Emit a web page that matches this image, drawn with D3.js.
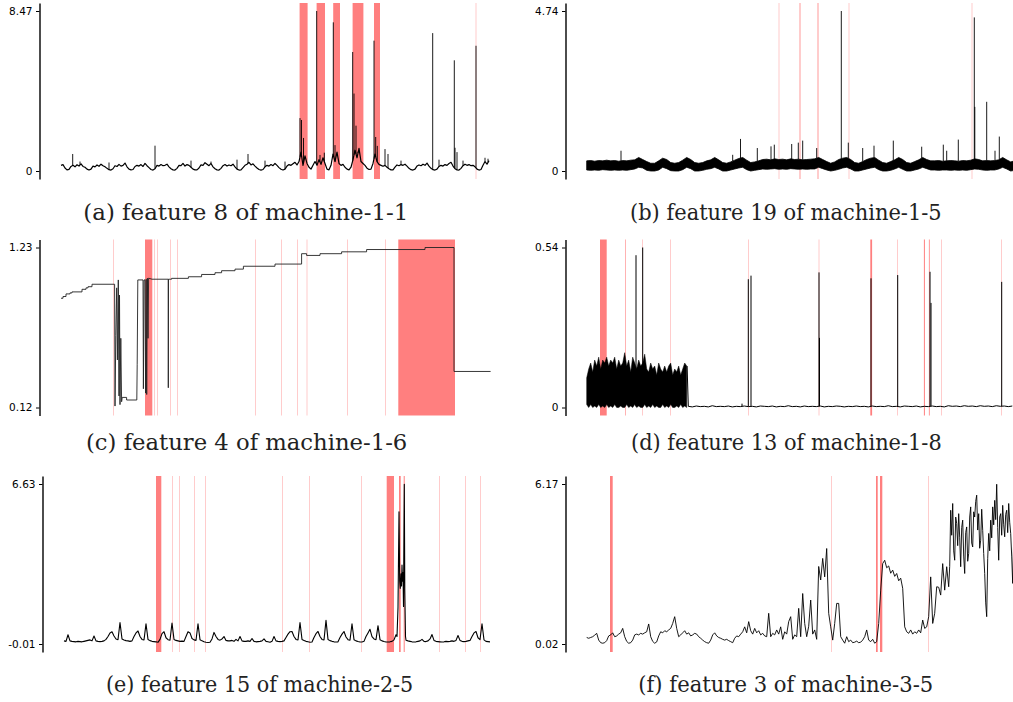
<!DOCTYPE html>
<html><head><meta charset="utf-8">
<script src="https://cdn.jsdelivr.net/npm/d3@7"></script>
<style>body{margin:0;background:#fff}svg{display:block}</style>
</head><body><svg id="c" width="1013" height="702"></svg>
<script>
// ---------- (a) feature 8 of machine-1-1 ----------
const aTicks = [0, 8.47];
const aBase = [0.30,0.34,0.16,0.06,0.09,0.24,0.30,0.22,0.33,0.26,
 0.38,0.24,0.20,0.10,0.05,0.10,0.26,0.22,0.32,0.25,
 0.36,0.28,0.22,0.14,0.07,0.05,0.12,0.28,0.24,0.35,
 0.26,0.30,0.42,0.22,0.10,0.06,0.08,0.24,0.30,0.26,
 0.34,0.24,0.40,0.28,0.18,0.08,0.05,0.12,0.30,0.26,
 0.34,0.28,0.30,0.36,0.22,0.12,0.06,0.05,0.14,0.30,
 0.28,0.40,0.26,0.34,0.30,0.20,0.10,0.06,0.06,0.16,
 0.32,0.30,0.44,0.36,0.28,0.40,0.22,0.12,0.06,0.05,
 0.14,0.28,0.34,0.26,0.32,0.28,0.36,0.22,0.10,0.05,
 0.06,0.18,0.30,0.36,0.46,0.32,0.38,0.26,0.16,0.08,
 0.05,0.08,0.22,0.30,0.26,0.34,0.28,0.40,0.30,0.18,
 0.09,0.05,0.10,0.26,0.34,0.30,0.38,0.46,0.32,0.50,
 1.00,0.30,0.80,0.40,0.20,0.10,0.30,0.50,0.30,0.60,
 0.35,0.70,0.40,0.10,0.06,0.30,0.90,0.50,1.00,0.40,
 0.30,0.35,0.20,0.10,0.06,0.20,0.60,1.10,0.70,1.20,
 0.50,0.40,0.30,0.15,0.08,0.10,0.40,0.90,0.50,0.35,
 0.30,0.25,0.30,0.20,0.12,0.06,0.06,0.20,0.32,0.28,
 0.34,0.30,0.36,0.26,0.14,0.07,0.05,0.10,0.26,0.32,
 0.28,0.36,0.30,0.42,0.26,0.14,0.07,0.05,0.10,0.24,
 0.30,0.26,0.34,0.30,0.40,0.46,0.26,0.12,0.06,0.05,
 0.14,0.28,0.36,0.30,0.34,0.28,0.30,0.22,0.10,0.05,
 0.08,0.30,0.50,0.36,0.55];
const aSpikes = [[5.85,0.9],[9.5,0.5],[24,0.45],[47,1.34],[65,0.55],[75,0.5],[88,0.6],[93.5,0.9],[102,0.55],[112,0.5],
 [119.5,2.8],[120.25,2.7],[121.25,1.75],[127.85,8.47],[129.5,0.85],[131.65,0.97],[136.15,7.87],[137,1.37],
 [145.85,6.3],[146.5,4.1],[147.5,2.4],[148.5,1.02],[156.5,6.9],[157.35,1.8],[158.15,1.33],[162,1.16],[163.5,0.9],
 [170,0.55],[185.85,7.3],[189,0.6],[196.65,5.86],[197,1.23],[198,1.0],[201,0.55],[207.5,6.63],[212,0.7],[213.5,0.65]];
const aSpans = [[119.3,123.3],[127.8,132],[136.1,139.5],[145.8,151.2],[156.5,159.5],[207.4,207.6]];

// ---------- (b) feature 19 of machine-1-5 ----------
const bTicks = [0, 4.74];
const bHi = [0.30,0.31,0.29,0.31,0.30,0.32,0.30,0.31,0.29,0.31,0.30,0.32,0.33,0.40,0.34,0.28,0.23,0.23,0.30,0.38,
 0.34,0.25,0.23,0.25,0.32,0.40,0.34,0.25,0.23,0.25,0.30,0.33,0.40,0.33,0.25,0.23,0.27,0.32,0.37,0.40,
 0.32,0.25,0.27,0.30,0.34,0.35,0.33,0.36,0.34,0.35,0.33,0.36,0.34,0.35,0.33,0.34,0.35,0.36,0.40,0.34,
 0.28,0.23,0.27,0.34,0.38,0.40,0.34,0.25,0.23,0.28,0.34,0.38,0.40,0.32,0.25,0.23,0.28,0.33,0.40,0.34,
 0.25,0.23,0.28,0.33,0.40,0.34,0.30,0.30,0.31,0.29,0.30,0.31,0.30,0.29,0.31,0.30,0.32,0.36,0.34,0.30,
 0.31,0.30,0.31,0.33,0.40,0.33,0.27,0.30];
const bLo = [0.03,0.02,0.03,0.02,0.04,0.03,0.02,0.03,0.02,0.03,0.02,0.04,0.06,0.11,0.09,0.02,0.00,0.00,0.03,0.11,
 0.07,0.01,0.00,0.00,0.04,0.11,0.07,0.00,0.00,0.02,0.05,0.07,0.11,0.06,0.00,0.00,0.03,0.06,0.09,0.11,
 0.04,0.00,0.02,0.04,0.06,0.05,0.06,0.07,0.05,0.06,0.05,0.07,0.06,0.05,0.06,0.05,0.06,0.06,0.11,0.07,
 0.03,0.00,0.02,0.05,0.09,0.11,0.06,0.00,0.00,0.03,0.06,0.09,0.11,0.04,0.00,0.00,0.02,0.06,0.11,0.05,
 0.00,0.00,0.03,0.06,0.11,0.07,0.03,0.03,0.02,0.03,0.03,0.02,0.03,0.02,0.03,0.02,0.04,0.06,0.05,0.03,
 0.02,0.03,0.03,0.06,0.11,0.06,0.00,0.02];
const bSpikes = [[17.15,0.6],[73,0.48],[76.9,0.95],[85.3,0.68],[92.15,0.73],[93.8,0.78],[102.5,0.8],[105.8,0.84],
 [108,0.9],[115,0.68],[127.3,4.74],[130.8,0.84],[138,0.68],[143.65,0.75],[153.3,0.9],[167.5,0.72],[178.3,0.78],
 [180,0.6],[185.8,0.93],[193.8,4.55],[194.05,1.9],[200,2.05],[204.15,0.6],[206.3,1.02]];
const bSpans = [[96.05,96.25],[106.45,106.85],[115.45,115.85],[131.05,131.25],[192.55,192.75]];

// ---------- (c) feature 4 of machine-1-6 ----------
const cTicks = [0.12, 1.23];
const cPts = [[0,0.878],[1,0.878],[1,0.89],[2.5,0.89],[2.5,0.908],[4.5,0.908],[4.5,0.915],[5.5,0.915],[5.5,0.922],
 [10.5,0.922],[10.5,0.94],[12.5,0.94],[12.5,0.95],[13.5,0.95],[13.5,0.958],[15.5,0.958],[15.5,0.975],[26.8,0.975],
 [27,0.13],[27.4,0.62],[27.85,0.95],[28.2,0.45],[28.65,1.005],[29,0.2],[29.25,0.9],[29.5,0.14],[29.9,0.6],[30.3,0.16],
 [30.6,0.19],[32.8,0.19],[32.8,0.172],[37.9,0.172],[38.1,0.42],[38.4,1.005],[41,1.005],[41.2,0.25],[41.5,1.005],
 [42,1.005],[42.3,0.22],[42.6,1.01],[42.85,0.21],[43.2,1.017],[43.5,0.6],[43.8,1.017],[45.5,1.01],[53.6,1.01],
 [53.65,0.257],[53.75,1.01],[55.3,1.01],[55.3,1.016],[63.7,1.016],[63.7,1.027],[70.3,1.027],[70.3,1.043],[77,1.043],
 [77,1.055],[80.3,1.055],[80.3,1.069],[87,1.069],[87,1.08],[91.2,1.08],[91.2,1.10],[107,1.10],[107,1.115],
 [120.3,1.115],[120.3,1.187],[122.8,1.187],[122.8,1.175],[129.5,1.175],[129.5,1.187],[140.3,1.187],[140.3,1.20],
 [152.8,1.20],[152.8,1.216],[182,1.216],[182,1.23],[196.5,1.23],[196.5,0.37],[214.8,0.37]];
const cSpans = [[26.05,26.25],[42,45.65],[46.55,46.75],[48.25,48.45],[54.55,54.75],[58.05,58.25],[97.05,97.25],
 [110.25,110.45],[118.05,118.25],[122.9,123.1],[143.25,143.45],[162.25,162.45],[168.65,197]];

// ---------- (d) feature 13 of machine-1-8 ----------
const dTicks = [0, 0.54];
const dBlockHi = [0.10,0.13,0.15,0.12,0.16,0.14,0.17,0.13,0.16,0.15,0.17,0.14,0.16,0.15,0.17,0.13,0.16,0.14,0.15,0.185,
 0.14,0.16,0.12,0.17,0.15,0.13,0.16,0.14,0.15,0.18,0.13,0.12,0.15,0.13,0.14,0.11,0.15,0.13,0.12,0.14,
 0.12,0.14,0.15,0.11,0.13,0.12,0.14,0.11,0.13,0.15,0.14];
const dBlockLo = [0.01,0.00,0.01,0.00,0.005,0.00,0.01,0.00,0.005,0.00,0.01,0.00,0.005,0.00,0.01,0.00,0.00,0.005,0.00,0.00,
 0.01,0.00,0.005,0.00,0.01,0.00,0.005,0.00,0.00,0.01,0.00,0.005,0.00,0.01,0.00,0.005,0.00,0.00,0.01,0.00,
 0.005,0.00,0.01,0.00,0.00,0.005,0.00,0.01,0.00,0.005,0.00];
const dBase = [0.004,0.002,0.005,0.003,0.004,0.002,0.006,0.003,0.004,0.003,0.005,0.002,0.004,0.003,0.005,0.003,0.004,
 0.002,0.005,0.004,0.003,0.005,0.002,0.004,0.003,0.006,0.003,0.004,0.002,0.005,0.003,0.004,0.003,0.005,0.002,0.004,
 0.003,0.005,0.004,0.002,0.004,0.003,0.005,0.003,0.004,0.002,0.005,0.003,0.004,0.003,0.006,0.003,0.004,0.002,0.005,
 0.004,0.003,0.005,0.002,0.004,0.003,0.005,0.003,0.004,0.002,0.006,0.004,0.005,0.003,0.006,0.004,0.005,0.003,0.006,
 0.004,0.005,0.003,0.006,0.004,0.005,0.003,0.005];
const dBaseStart = 50.8, dBaseStep = 2;
const dSpikes = [[24.65,0.514],[28,0.54],[77.65,0.013],[80.8,0.433],[82.15,0.445],[116.15,0.456],[116.4,0.235],
 [142.15,0.436],[155.5,0.447],[171.65,0.458],[172.15,0.353],[207.5,0.424]];
const dSpans = [[6.65,10],[19.35,19.65],[27.7,27.9],[41.7,41.9],[80.7,80.9],[116.05,116.25],[141.8,142.7],[155.4,155.6],
 [168.6,169.1],[171.1,171.5],[177.4,177.6],[207.4,207.6]];

// ---------- (e) feature 15 of machine-2-5 ----------
const eTicks = [-0.01, 6.63];
const eBase = [0.12,0.10,0.375,0.12,0.10,0.09,0.08,0.10,0.09,0.08,
 0.10,0.12,0.14,0.16,0.12,0.32,0.12,0.10,0.09,0.10,
 0.12,0.18,0.30,0.45,0.50,0.32,0.20,0.17,0.88,0.20,
 0.16,0.13,0.12,0.10,0.12,0.30,0.45,0.53,0.30,0.18,
 0.16,0.83,0.18,0.13,0.10,0.09,0.08,0.06,0.18,0.42,
 0.50,0.25,0.17,0.15,0.86,0.18,0.14,0.12,0.10,0.11,
 0.10,0.30,0.50,0.45,0.22,0.16,0.14,0.83,0.17,0.12,
 0.08,0.06,0.05,0.06,0.20,0.47,0.30,0.18,0.15,0.20,
 0.30,0.14,0.12,0.12,0.14,0.10,0.18,0.12,0.30,0.12,
 0.10,0.10,0.12,0.10,0.22,0.10,0.08,0.09,0.10,0.12,
 0.20,0.10,0.08,0.06,0.10,0.30,0.12,0.10,0.09,0.10,
 0.12,0.26,0.40,0.50,0.51,0.30,0.18,0.16,0.88,0.18,
 0.14,0.10,0.08,0.06,0.07,0.26,0.42,0.51,0.30,0.18,
 0.16,0.97,0.18,0.13,0.10,0.08,0.07,0.08,0.26,0.40,
 0.51,0.28,0.17,0.15,0.83,0.17,0.12,0.09,0.07,0.07,
 0.10,0.30,0.45,0.60,0.30,0.20,0.17,0.75,0.17,0.12,
 0.09,0.07,0.07,0.08,0.10,0.16,0.375,0.10,0.10,0.10,
 0.10,0.15,0.12,0.10,0.08,0.07,0.08,0.10,0.12,0.18,
 0.10,0.09,0.12,0.20,0.38,0.14,0.10,0.09,0.08,0.07,
 0.08,0.10,0.09,0.10,0.12,0.10,0.14,0.34,0.14,0.10,
 0.09,0.10,0.12,0.14,0.30,0.45,0.51,0.25,0.17,0.83,
 0.16,0.10,0.09,0.08];
const eBurst = [[166.5,0.30],[167,1.5],[167.5,5.48],[167.85,2.6],[168.15,2.3],[168.5,2.9],[168.75,2.4],[169,3.27],
 [169.25,2.6],[169.5,2.95],[169.75,1.55],[170.15,6.62],[170.4,2.2],[170.75,0.3]];
const eSpans = [[46,48.65],[54.05,54.25],[57.55,57.75],[65.05,65.25],[70.55,70.75],[109.05,109.25],[122.55,122.75],
 [148.75,148.95],[161.35,165],[167.5,168.35],[169.85,170.35],[187.55,187.75],[200.55,200.75],[208.05,208.25]];

// ---------- (f) feature 3 of machine-3-5 ----------
const fTicks = [0.02, 6.17];
const fVals = [0.27,0.24,0.27,0.30,0.36,0.43,0.17,0.07,0.05,0.07,
 0.15,0.33,0.37,0.45,0.30,0.33,0.40,0.45,0.62,0.30,
 0.12,0.05,0.07,0.17,0.37,0.40,0.37,0.43,0.40,0.45,
 0.49,0.79,0.30,0.12,0.05,0.10,0.33,0.49,0.45,0.53,
 0.49,0.56,0.62,0.81,1.07,0.62,0.30,0.37,0.45,0.53,
 0.40,0.45,0.33,0.37,0.43,0.40,0.30,0.24,0.17,0.11,
 0.07,0.05,0.17,0.37,0.45,0.33,0.27,0.24,0.20,0.17,
 0.20,0.15,0.11,0.07,0.24,0.33,0.30,0.40,0.49,0.68,
 0.45,0.88,0.53,0.40,0.62,0.45,0.53,0.37,0.43,0.33,
 0.30,1.20,0.30,0.43,0.37,0.56,0.40,0.68,0.20,0.49,
 0.40,0.88,1.07,0.20,0.37,0.30,1.39,0.30,1.96,0.81,
 0.30,0.70,1.71,0.40,0.56,0.20,3.00,2.48,3.31,2.60,
 3.69,1.20,0.68,0.17,0.81,1.58,1.58,0.30,0.17,0.05,
 0.30,0.11,0.17,0.07,0.09,0.13,0.07,0.09,0.17,0.30,
 0.56,0.17,0.11,0.20,0.05,0.11,0.81,2.09,3.11,3.24,
 2.95,3.02,2.74,2.86,2.62,2.73,2.45,2.55,2.16,0.68,
 0.49,0.43,0.56,0.40,0.49,0.43,0.56,0.45,0.94,0.62,
 0.68,1.07,2.60,0.81,1.20,2.22,2.20,1.90,3.11,2.09,
 2.99,2.22];
// dense final stretch, sampled twice as finely (from t = 181.5)
const fDense = [3.0,5.16,4.2,5.42,3.6,3.24,4.9,4.65,3.8,5.03,4.1,2.99,4.5,4.78,3.4,2.73,4.3,4.52,3.2,3.50,
 4.9,5.29,3.9,3.75,5.1,4.90,5.5,5.74,4.4,5.03,3.7,4.01,5.2,4.39,3.5,2.73,1.6,1.07,3.3,4.27,
 3.6,4.78,4.1,5.29,4.6,5.54,4.8,6.16,4.5,3.24,4.9,5.03,4.2,5.35,4.6,4.14,5.0,5.16,4.3,5.42,
 4.7,4.27,3.4,2.35,4.1,5.16];
const fDenseStart = 181.5, fDenseStep = 0.5;
const fSpans = [[11.65,13],[122.4,122.6],[144.65,145.5],[146.65,147.8],[170.7,170.9]];

const titles = ["(a) feature 8 of machine-1-1","(b) feature 19 of machine-1-5","(c) feature 4 of machine-1-6",
 "(d) feature 13 of machine-1-8","(e) feature 15 of machine-2-5","(f) feature 3 of machine-3-5"];

// ---------- drawing ----------
const svg = d3.select("#c");
const idx = arr => arr.map((v,i)=>[i,v]);
function interp(pts,t){
  if(t<=pts[0][0]) return pts[0][1];
  for(let k=1;k<pts.length;k++){
    if(pts[k][0]>=t){const [t0,v0]=pts[k-1],[t1,v1]=pts[k];return t1===t0?v1:v0+(v1-v0)*(t-t0)/(t1-t0);}
  }
  return pts[pts.length-1][1];
}

function panel(p){
  const g = svg.append("g");
  const span = p.ticks[1]-p.ticks[0];
  const y = d3.scaleLinear().domain([p.ticks[0]-0.05*span, p.ticks[1]+0.05*span]).range([p.bottom,p.top]);
  const x = d3.scaleLinear().domain([0,p.tMax]).range([p.x0,p.x1]);
  g.selectAll("rect.sp").data(p.spans).join("rect")
    .attr("x",d=>x(d[0])).attr("width",d=>x(d[1])-x(d[0]))
    .attr("y",p.top).attr("height",p.bottom-p.top)
    .attr("fill","#ff0000").attr("fill-opacity",0.5);
  if(p.area){
    p.area.forEach(a=>{
      g.append("path").datum(a.lo.map((v,i)=>[a.start+i*a.step,v,a.hi[i]]))
        .attr("d",d3.area().x(d=>x(d[0])).y0(d=>y(d[1])).y1(d=>y(d[2])))
        .attr("fill","#000").attr("stroke","#000").attr("stroke-width",a.sw||0.5);
    });
  }
  (p.lines||[]).forEach(l=>{
    g.append("path").datum(l.pts)
      .attr("d",d3.line().x(d=>x(d[0])).y(d=>y(d[1])))
      .attr("fill","none").attr("stroke",l.color||"#000").attr("stroke-width",l.w||0.9)
      .attr("stroke-linejoin","round");
  });
  if(p.spikes){
    g.selectAll("line.spk").data(p.spikes).join("line")
      .attr("x1",d=>x(d[0])).attr("x2",d=>x(d[0]))
      .attr("y1",d=>y(interp(p.spikeBase,d[0]))).attr("y2",d=>y(d[1]))
      .attr("stroke","#000").attr("stroke-width",p.spikeW||0.9);
  }
  const ax = g.append("g").attr("transform",`translate(${p.axisX},0)`)
    .call(d3.axisLeft(y).tickValues(p.ticks).tickFormat(d=>String(d)).tickSize(3.5).tickPadding(3.5).tickSizeOuter(0));
  ax.select(".domain").attr("stroke","#000").attr("stroke-width",1.4);
  ax.selectAll(".tick line").attr("stroke","#000").attr("stroke-width",1);
  ax.selectAll(".tick text").attr("font-family","DejaVu Sans").attr("font-size",10.5).attr("fill","#000");
  svg.append("text").attr("x",p.tx).attr("y",p.ty).text(p.title)
    .attr("font-family","DejaVu Serif").attr("font-size",22).attr("fill","#222")
    .attr("textLength",p.tw).attr("lengthAdjust","spacingAndGlyphs");
}

// (a)
const aPts = idx(aBase);
panel({ticks:aTicks,top:3,bottom:179,x0:61,x1:490,tMax:214.5,axisX:39.5,spans:aSpans,
  lines:[{pts:aPts,w:1.2}],spikes:aSpikes,spikeBase:aPts,
  title:titles[0],tx:83.3,ty:219.5,tw:325});
// (b)
const bHiPts = bHi.map((v,i)=>[i*2,v]);
panel({ticks:bTicks,top:3,bottom:179,x0:586.7,x1:1015,tMax:214.15,axisX:565.5,spans:bSpans,
  area:[{lo:bLo,hi:bHi,start:0,step:2,sw:0.8}],spikes:bSpikes,spikeBase:bHiPts,
  title:titles[1],tx:630,ty:219.5,tw:311.7});
// (c)
panel({ticks:cTicks,top:239.5,bottom:415.5,x0:61,x1:490,tMax:214.5,axisX:39.5,spans:cSpans,
  lines:[{pts:cPts,w:0.9,color:"#222"}],
  title:titles[2],tx:86,ty:450,tw:321.3});
// (d)
const dBasePts = dBase.map((v,i)=>[dBaseStart+i*dBaseStep,v]);
panel({ticks:dTicks,top:239.5,bottom:415.5,x0:586.7,x1:1015,tMax:214.15,axisX:565.5,spans:dSpans,
  area:[{lo:dBlockLo,hi:dBlockHi,start:0,step:1}],
  lines:[{pts:[[50.2,dBlockHi[50]],[50.8,0.004]].concat(dBasePts),w:1}],
  spikes:dSpikes,spikeBase:dBasePts,spikeW:1,
  title:titles[3],tx:631,ty:450,tw:310.7});
// (e)
const ePts = idx(eBase).filter(d=>d[0]<eBurst[0][0]||d[0]>eBurst[eBurst.length-1][0]).concat(eBurst).sort((a,b)=>a[0]-b[0]);
panel({ticks:eTicks,top:476,bottom:652,x0:64,x1:490.7,tMax:213.35,axisX:42.5,spans:eSpans,
  lines:[{pts:ePts,w:1.1}],
  title:titles[4],tx:106,ty:692,tw:307.3});
// (f)
const fPts = idx(fVals).filter(d=>d[0]<fDenseStart).concat(fDense.map((v,i)=>[fDenseStart+i*fDenseStep,v]));
panel({ticks:fTicks,top:476,bottom:652,x0:586.7,x1:1015,tMax:214.15,axisX:565.5,spans:fSpans,
  lines:[{pts:fPts,w:0.9}],
  title:titles[5],tx:638.3,ty:692,tw:295});
</script></body></html>
